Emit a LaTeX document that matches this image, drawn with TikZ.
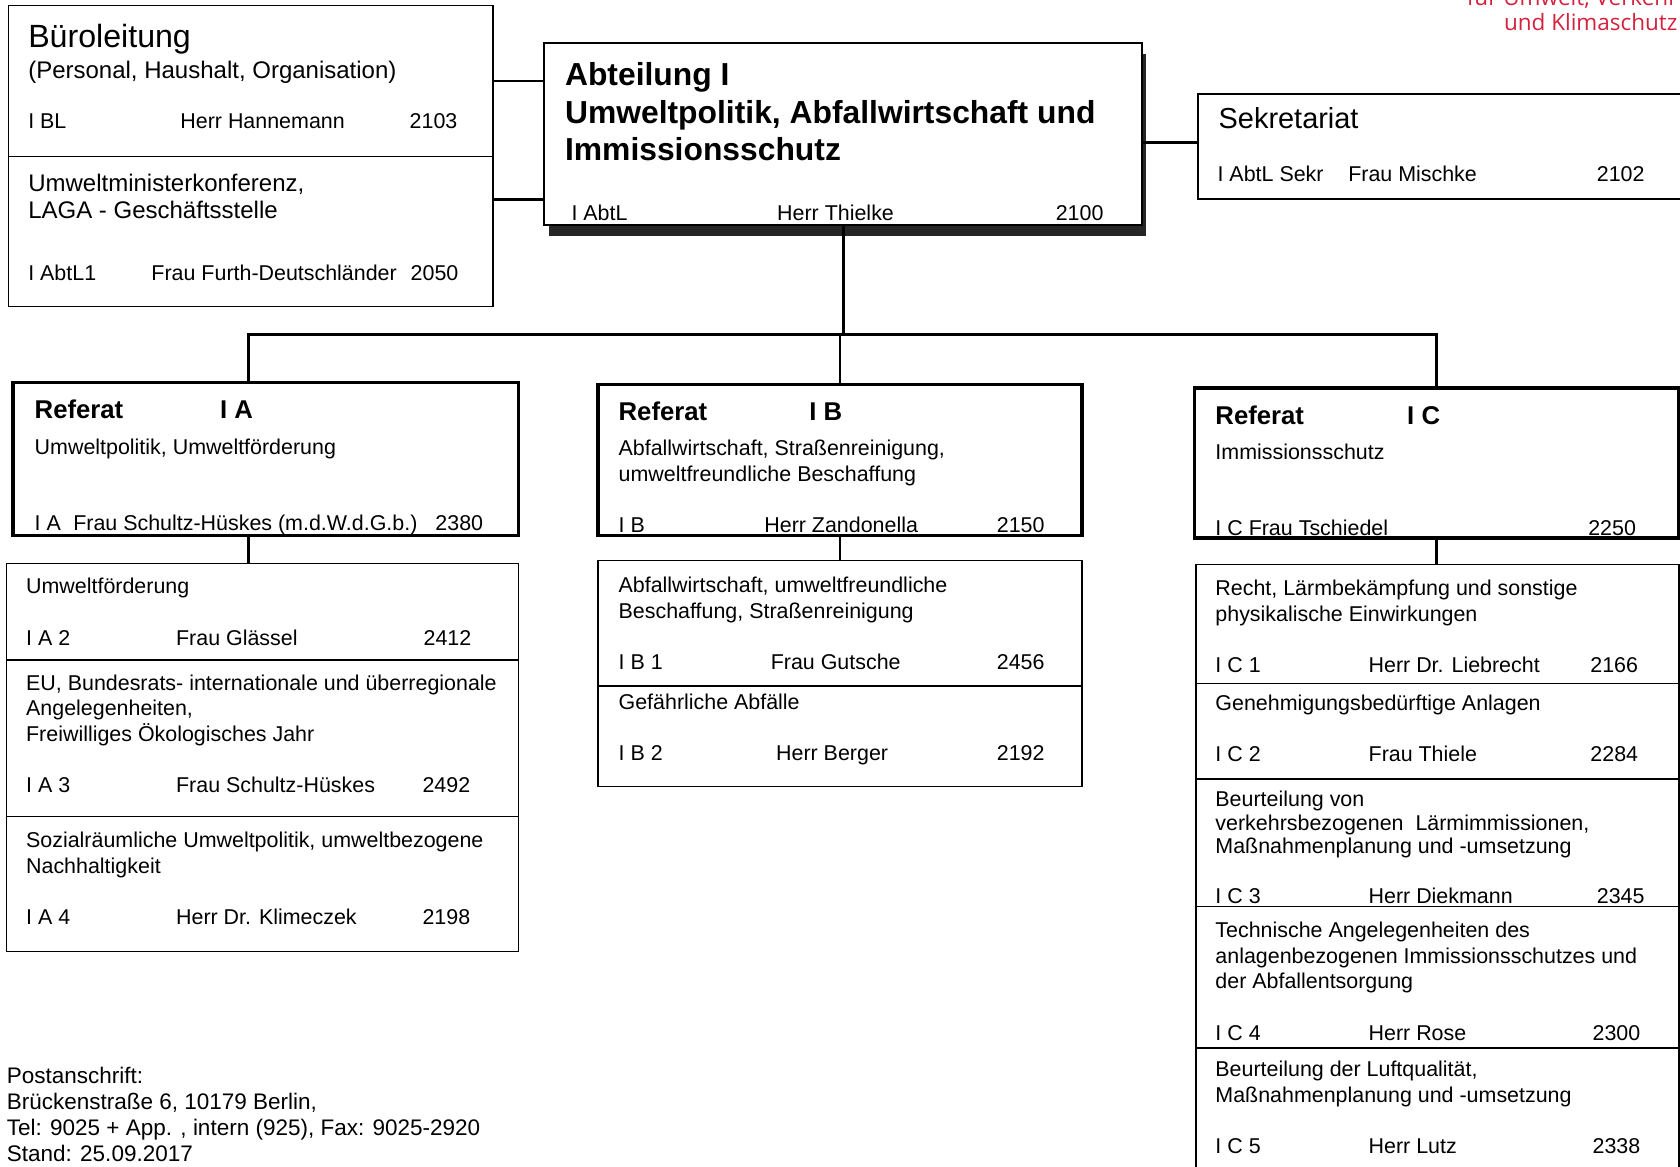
\documentclass[tikz,border=0pt]{standalone}
\usepackage{fontspec}
\setmainfont{Liberation Sans}
\newfontfamily\berlinfont{Open Sans}
\usepackage{tikz}
\usetikzlibrary{positioning,shadows,calc}
\definecolor{berlinred}{HTML}{D4213D}
\def\codecol{70pt}
\def\namecol{115pt}
\newcommand{\zeile}[3]{\makebox[\codecol][l]{#1}\makebox[\namecol][l]{#2}#3}
\tikzset{
  orgbox/.style={draw=black, line width=0.75pt, anchor=north west, inner sep=0pt, outer sep=0pt},
  refbox/.style={orgbox, line width=1.6pt},
  leitbox/.style={orgbox, line width=0.8pt, fill=white, drop shadow={shadow xshift=2pt, shadow yshift=-5pt, fill=black!85, opacity=1}},
  txt/.style={anchor=base west, align=left, inner sep=0pt, font=\fontsize{10}{12}\selectfont},
  mittel/.style={txt, font=\fontsize{11.2}{12.5}\selectfont},
  gross/.style={txt, font=\fontsize{15}{18}\selectfont},
  kopf/.style={txt, font=\fontsize{12}{14}\selectfont\bfseries},
  titel/.style={txt, font=\fontsize{14.85}{17.5}\selectfont\bfseries},
  senat/.style={anchor=base east, inner sep=0pt, text=berlinred, font=\berlinfont\fontsize{10.5}{11.5}\selectfont},
  spalten/.code 2 args={\def\codecol{#1}\def\namecol{#2}},
  conn/.style={line width=1.3pt}
}
\begin{document}
\begin{tikzpicture}[x=0.5pt, y=-0.5pt]
  \useasboundingbox (0,0) rectangle (1568,1089);
  \clip (0,0) rectangle (1568,1089);
  % Leitung und Stabsstellen
  \node[orgbox, minimum width=226pt, minimum height=70.5pt] (buero) at (8,5) {};
  \node[orgbox, below=0pt of buero, minimum width=226pt, minimum height=70pt] (umk) {};
  \node[leitbox, minimum width=279pt, minimum height=85pt] (abt) at (508,40) {};
  \node[orgbox, minimum width=228pt, minimum height=49pt] (sekr) at (1118,88) {};
  % Referate
  \node[refbox, minimum width=236pt, minimum height=71.5pt] (refA) at (12,357) {};
  \node[refbox, minimum width=226pt, minimum height=70.5pt] (refB) at (558,359) {};
  \node[refbox, minimum width=226pt, minimum height=70pt] (refC) at (1115,362) {};
  % Sachgebiete
  \node[orgbox, minimum width=239pt, minimum height=45pt] (a2) at (6,526) {};
  \node[orgbox, below=0pt of a2, minimum width=239pt, minimum height=73pt] (a3) {};
  \node[orgbox, below=0pt of a3, minimum width=239pt, minimum height=63pt] (a4) {};
  \node[orgbox, minimum width=226pt, minimum height=58.5pt] (b1) at (558,523) {};
  \node[orgbox, below=0pt of b1, minimum width=226pt, minimum height=47pt] (b2) {};
  \node[orgbox, minimum width=225.5pt, minimum height=55.5pt] (c1) at (1116,527) {};
  \node[orgbox, below=0pt of c1, minimum width=225.5pt, minimum height=44.5pt] (c2) {};
  \node[orgbox, below=0pt of c2, minimum width=225.5pt, minimum height=59.5pt] (c3) {};
  \node[orgbox, below=0pt of c3, minimum width=225.5pt, minimum height=66pt] (c4) {};
  \node[orgbox, below=0pt of c4, minimum width=225.5pt, minimum height=60pt] (c5) {};
  % Verbindungen
  \coordinate (bus) at (784,312);
  \draw[conn] (buero.east) -- (buero.east -| abt.west);
  \draw[conn] ([yshift=15pt]umk.east) -- ([yshift=15pt]umk.east -| abt.west);
  \draw[conn] ([yshift=2pt]sekr.west -| abt.east) -- ([yshift=2pt]sekr.west);
  \draw[conn] (abt.south) -- (abt.south |- bus);
  \draw[conn] ([xshift=-8pt]refA.north) |- (refC.north |- bus) -- (refC.north);
  \draw[conn] (refB.north |- bus) -- (refB.north);
  \draw[conn] ([xshift=-8pt]refA.south) -- ([xshift=-8pt]refA.south |- a2.north);
  \draw[conn] (refB.south) -- (refB.south |- b1.north);
  \draw[conn] (refC.south) -- (refC.south |- c1.north);
  % Texte oben (Grundlinie der letzten Zeile)
  \node[senat] (senat1) at (1566,5) {für Umwelt, Verkehr};
  \node[senat] (senat2) at (1566,28) {und Klimaschutz};
  \node[gross] (buero-titel) at (26,44) {Büroleitung};
  \node[mittel] (buero-aufg) at (26,73) {(Personal, Haushalt, Organisation)};
  \node[txt, spalten={71pt}{107pt}] (buero-zeile) at (26,120) {\zeile{I BL}{Herr Hannemann}{2103}};
  \node[mittel] (umk-aufg) at (26,204) {Umweltministerkonferenz,\\LAGA - Geschäftsstelle};
  \node[txt, spalten={57.5pt}{121pt}] (umk-zeile) at (26,262) {\zeile{I AbtL1}{Frau Furth-Deutschländer}{2050}};
  \node[titel] (abt-titel) at (527,150) {Abteilung I\\Umweltpolitik, Abfallwirtschaft und\\Immissionsschutz};
  \node[txt, spalten={96pt}{130pt}] (abt-zeile) at (533,206) {\zeile{I AbtL}{Herr Thielke}{2100}};
  \node[txt, font=\fontsize{13.5}{16}\selectfont] (sekr-titel) at (1137,120) {Sekretariat};
  \node[txt, spalten={61pt}{116pt}] (sekr-zeile) at (1136,169) {\zeile{I AbtL Sekr}{Frau Mischke}{2102}};
  % Texte Referate
  \node[kopf] (refA-titel) at (32,390.5) {\makebox[86.5pt][l]{Referat}I A};
  \node[txt] (refA-aufg) at (32,424) {Umweltpolitik, Umweltförderung};
  \node[txt, spalten={18pt}{169pt}] (refA-zeile) at (32,495) {\zeile{I A}{Frau Schultz-Hüskes (m.d.W.d.G.b.)}{2380}};
  \node[kopf] (refB-titel) at (577,392.5) {\makebox[89pt][l]{Referat}I B};
  \node[txt] (refB-aufg) at (577,449) {Abfallwirtschaft, Straßenreinigung,\\umweltfreundliche Beschaffung};
  \node[txt, spalten={68pt}{108.5pt}] (refB-zeile) at (577,497) {\zeile{I B}{Herr Zandonella}{2150}};
  \node[kopf] (refC-titel) at (1134,396.5) {\makebox[89.5pt][l]{Referat}I C};
  \node[txt] (refC-aufg) at (1134,429) {Immissionsschutz};
  \node[txt, spalten={174pt}{0pt}] (refC-zeile) at (1134,500) {\zeile{I C Frau Tschiedel}{}{2250}};
  % Texte Sachgebiete
  \node[txt, spalten={70pt}{115.5pt}] (a2-t) at (24,602) {Umweltförderung\\[12pt]\zeile{I A 2}{Frau Glässel}{2412}};
  \node[txt, spalten={70pt}{115pt}] (a3-t) at (24,740) {EU, Bundesrats- internationale und überregionale\\Angelegenheiten,\\Freiwilliges Ökologisches Jahr\\[12pt]\zeile{I A 3}{Frau Schultz-Hüskes}{2492}};
  \node[txt, spalten={70pt}{115pt}] (a4-t) at (24,863) {Sozialräumliche Umweltpolitik, umweltbezogene\\Nachhaltigkeit\\[12pt]\zeile{I A 4}{Herr Dr. Klimeczek}{2198}};
  \node[txt, spalten={71pt}{105.5pt}] (b1-t) at (577,625) {Abfallwirtschaft, umweltfreundliche\\Beschaffung, Straßenreinigung\\[12pt]\zeile{I B 1}{Frau Gutsche}{2456}};
  \node[txt, spalten={71pt}{105.5pt}] (b2-t) at (577,710) {Gefährliche Abfälle\\[12pt]\zeile{I B 2}{\hspace*{2.5pt}Herr Berger}{2192}};
  \node[txt, spalten={71.5pt}{103.5pt}] (c1-t) at (1134,628) {Recht, Lärmbekämpfung und sonstige\\physikalische Einwirkungen\\[12pt]\zeile{I C 1}{Herr Dr. Liebrecht}{2166}};
  \node[txt, spalten={71.5pt}{103.5pt}] (c2-t) at (1134,711) {Genehmigungsbedürftige Anlagen\\[12pt]\zeile{I C 2}{Frau Thiele}{2284}};
  \node[txt, font=\fontsize{10}{11}\selectfont, spalten={71.5pt}{106.5pt}] (c3-t) at (1134,843) {Beurteilung von\\verkehrsbezogenen\ \ Lärmimmissionen,\\Maßnahmenplanung und -umsetzung\\[12pt]\zeile{I C 3}{Herr Diekmann}{2345}};
  \node[txt, spalten={71.5pt}{104.5pt}] (c4-t) at (1134,971) {Technische Angelegenheiten des\\anlagenbezogenen Immissionsschutzes und\\der Abfallentsorgung\\[12pt]\zeile{I C 4}{Herr Rose}{2300}};
  \node[txt, spalten={71.5pt}{104.5pt}] (c5-t) at (1134,1077) {Beurteilung der Luftqualität,\\Maßnahmenplanung und -umsetzung\\[12pt]\zeile{I C 5}{Herr Lutz}{2338}};
  % Anschrift
  \node[txt, font=\fontsize{10.5}{12.2}\selectfont] (post) at (6,1084) {Postanschrift:\\Brückenstraße 6, 10179 Berlin,\\Tel: 9025 + App. , intern (925), Fax: 9025-2920\\Stand: 25.09.2017};
\end{tikzpicture}
\end{document}
